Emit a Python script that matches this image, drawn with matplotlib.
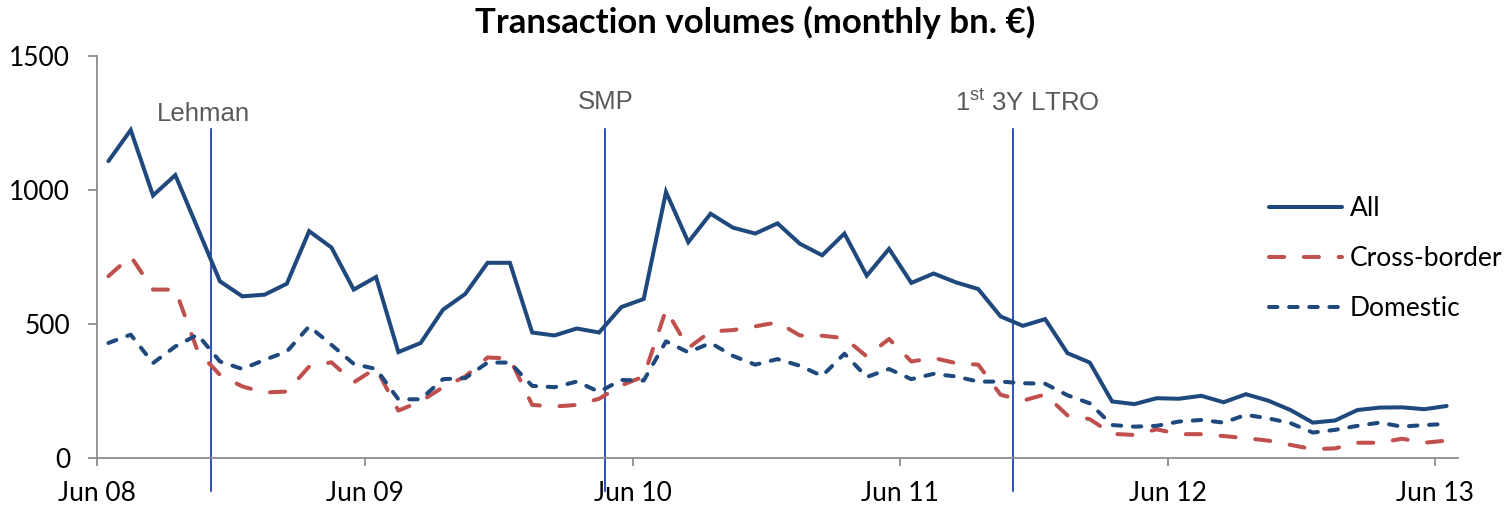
import matplotlib
matplotlib.use("Agg")
import matplotlib.pyplot as plt
import numpy as np
import pandas as pd

plt.rcParams['font.family'] = ['Lato', 'DejaVu Sans']
plt.rcParams['mathtext.fontset'] = 'custom'
plt.rcParams['mathtext.rm'] = 'Liberation Sans'

# ---- data (monthly, Jun 2008 - Jun 2013) ----
months = pd.period_range("2008-06", periods=61, freq="M")

all_vals = [1108, 1224, 980, 1056, 858, 660, 604, 610, 651, 847, 786,
            629, 676, 396, 430, 554, 613, 729, 729, 469, 458,
            484, 469, 564, 594, 993, 806, 912, 860, 838, 876,
            800, 757, 838, 681, 781, 654, 689, 656, 631, 529,
            494, 519, 392, 357, 212, 202, 224, 222, 233, 209,
            239, 215, 180, 133, 141, 180, 189, 190, 183, 195]

cross_vals = [679, 753, 629, 629, 400, 311, 268, 245, 249, 342, 358,
              283, 336, 178, 212, 265, 305, 376, 372, 199, 193,
              199, 222, 272, 305, 554, 411, 473, 478, 492, 507,
              458, 457, 448, 380, 445, 361, 374, 355, 349, 237,
              215, 238, 160, 146, 91, 87, 108, 90, 90, 83,
              75, 66, 50, 34, 37, 58, 58, 73, 58, 66]

dom_vals = [430, 461, 355, 417, 461, 361, 333, 367, 398, 492, 423,
            352, 333, 220, 220, 295, 299, 357, 357, 270, 265,
            286, 248, 292, 290, 436, 395, 430, 382, 349, 370,
            345, 307, 390, 303, 333, 295, 315, 305, 286, 286,
            280, 278, 235, 205, 124, 118, 121, 137, 143, 133,
            162, 149, 131, 96, 106, 121, 133, 118, 124, 128]

tick_labels = ["Jun 08", "Jun 09", "Jun 10", "Jun 11", "Jun 12", "Jun 13"]
event_labels = ["Lehman", "SMP", "1$^{\\mathrm{st}}$ 3Y LTRO"]
event_pos = [5.1, 22.75, 41.05]          # months after Jun 08 tick
event_label_pos = [4.75, 22.8, 41.7]

# ---- figure ----
fig = plt.figure(figsize=(15.08, 5.12), dpi=100)
ax = fig.add_axes([0.0645, 0.1049, 0.9022, 0.7857])

x = np.arange(len(months)) + 0.5
blue = '#1F497D'
red = '#C0504D'

ax.plot(x, all_vals, color=blue, lw=2.9, solid_capstyle='round',
        solid_joinstyle='miter', label='All')
ax.plot(x, cross_vals, color=red, lw=2.9, dashes=(3.75, 4.9),
        dash_capstyle='round', label='Cross-border')
ax.plot(x, dom_vals, color=blue, lw=2.9, dashes=(2.1, 2.9),
        dash_capstyle='round', label='Domestic')

ax.set_xlim(0, 61)
ax.set_ylim(0, 1500)
ax.set_yticks([0, 500, 1000, 1500])
ax.set_xticks(np.arange(0, 61, 12))
ax.set_xticklabels(tick_labels)

for s in ['top', 'right']:
    ax.spines[s].set_visible(False)
for s in ['left', 'bottom']:
    ax.spines[s].set_color('#8C8C8C')
    ax.spines[s].set_linewidth(1.3)
ax.tick_params(axis='both', colors='#8C8C8C', width=1.3, labelcolor='black',
               labelsize=19)
ax.tick_params(axis='y', length=6.5, pad=13)
ax.tick_params(axis='x', length=6, pad=10)

# event lines
for ev, lp, lab in zip(event_pos, event_label_pos, event_labels):
    ax.plot([ev, ev], [-123, 1228], color='#0A35A8', lw=1.2, clip_on=False,
            zorder=1)
    ax.text(lp, 1283 if lab == "Lehman" else 1327, lab, ha='center',
            va='center', fontsize=18.5, color='#595959',
            family='Liberation Sans')

leg = ax.legend(loc='upper left', bbox_to_anchor=(1269 / 1508, 1 - 196 / 512),
                bbox_transform=fig.transFigure, frameon=False, fontsize=19,
                handlelength=2.75, handletextpad=0.3, labelspacing=0.95,
                borderaxespad=0, borderpad=0)

fig.text(0.5007, 0.957, "Transaction volumes (monthly bn. \u20ac)", ha='center',
         va='center', fontsize=25, fontweight='bold')

fig.savefig("out.png", dpi=100)
